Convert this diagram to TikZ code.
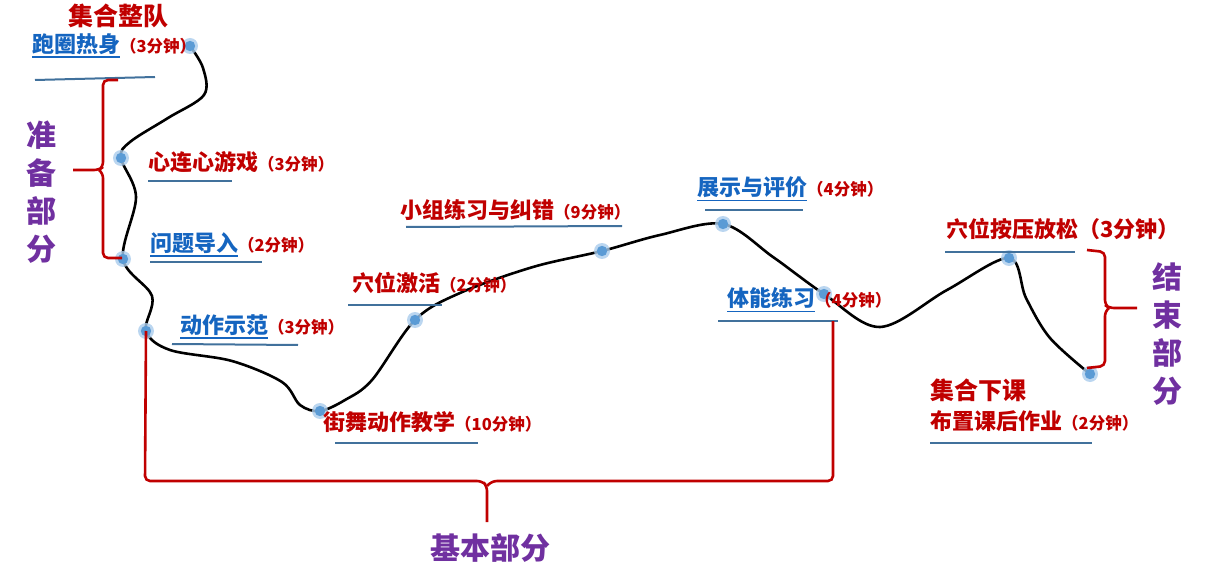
\documentclass[tikz,border=0pt]{standalone}
\usepackage{fontspec}
\setmainfont{Noto Sans CJK SC}
\usepackage{xcolor}
\definecolor{tred}{RGB}{192,0,0}
\definecolor{tblue}{RGB}{21,101,192}
\definecolor{tpurple}{RGB}{112,48,160}
\definecolor{rulebl}{RGB}{65,113,156}
\definecolor{dotbl}{RGB}{91,155,213}
\definecolor{halo}{RGB}{170,204,236}
\newcommand{\lnk}[1]{{\color{tblue}\vtop{\hbox{#1}\kern1.5pt\hrule height 1.6pt}}}
\newcommand{\mins}[1]{{\fontsize{16.5}{17}\selectfont（#1分钟）}}

\begin{document}
\begin{tikzpicture}[x=1pt, y=-1pt,
  lbl/.style={anchor=west, inner sep=0pt, font=\fontsize{22}{24}\selectfont\bfseries, text=tred},
  part/.style={inner sep=0pt, align=center, font=\fontsize{30}{38}\selectfont\bfseries, text=tpurple},
  bar/.style={draw=rulebl, line width=2pt},
  brace/.style={draw=tred, line width=2.6pt, rounded corners=5pt}]
\useasboundingbox (0,0) rectangle (1208,580);
% points on the lesson curve
\foreach \n/\xy in {d1/{190,46}, d2/{121,158}, d3/{123,259}, d4/{146,331}, d5/{320,411},
  d6/{415,320}, d7/{602,251}, d8/{723,224}, d9/{824,294}, d10/{1009,258}, d11/{1090,374}}
  \coordinate (\n) at (\xy);
\draw[line width=2.6pt, line join=round] plot[smooth, tension=0.55] coordinates {
  (d1) (203,68) (204,95) (168,118) (130,142) (d2) (136,197) (d3) (152,296) (d4)
  (170,350) (232,361) (282,382) (300,405) (d5) (345,400) (372,380) (d6) (460,293)
  (533,267) (d7) (660,235) (d8) (773,257) (d9) (880,327) (947,290) (d10) (1026,298)
  (1050,338) (d11)};
\foreach \p in {d1,d2,d3,d4,d5,d6,d7,d8,d9,d10,d11} {
  \fill[halo, opacity=.8] (\p) circle (8pt);
  \fill[dotbl] (\p) circle (5.2pt);
}
% labels
\node[lbl, anchor=center, font=\fontsize{25}{27}\selectfont\bfseries] (t0) at (118,16) {集合整队};
\node[lbl] (t1) at (32,46) {\lnk{跑圈热身}\mins{3}};
\node[lbl] (t2) at (148,162) {心连心游戏\mins{3}};
\node[lbl] (t3) at (150,245) {\lnk{问题导入}\mins{2}};
\node[lbl] (t4) at (180,327) {\lnk{动作示范}\mins{3}};
\node[lbl] (t5) at (323,422) {街舞动作教学\mins{10}};
\node[lbl] (t6) at (352,283) {穴位激活\mins{2}};
\node[lbl] (t7) at (400,210) {小组练习与纠错\mins{9}};
\node[lbl] (t8) at (697,189) {\lnk{展示与评价}\mins{4}};
\node[lbl] (t9) at (727,300) {\lnk{体能练习}\mins{4}};
\node[lbl] (t10) at (946,229) {穴位按压放松（3分钟）};
\node[lbl, font=\fontsize{24}{26}\selectfont\bfseries] (t11) at (930,390) {集合下课};
\node[lbl] (t12) at (930,421) {布置课后作业\mins{2}};
% part names
\node[part] (p1) at (42,192) {准\\备\\部\\分};
\node[part] (p2) at (490,548) {基本部分};
\node[part] (p3) at (1167,334) {结\\束\\部\\分};
% separator bars
\foreach \a/\b in {{35,80}/{155,77}, {148,181}/{232,181}, {150,262}/{262,262},
  {172,344}/{298,345}, {335,443}/{478,443}, {348,305}/{442,305}, {406,227}/{622,226},
  {705,210}/{803,210}, {718,321}/{838,321}, {945,252}/{1075,252}, {930,443}/{1092,443}}
  \draw[bar] (\a) -- (\b);
% braces
\draw[brace] (118,80) -- (103,80) -- (103,167) -- (99,170) -- (73,170);
\draw[brace] (99,170) -- (103,173) -- (103,258) -- (122,258);
\draw[brace] (d4) -- (145,481) -- (482,481) -- (487,486) -- (487,522);
\draw[brace] (487,486) -- (492,481) -- (833,481) -- (833,321);
\draw[brace] (1087,250) -- (1105,252) -- (1105,305) -- (1109,308) -- (1137,308);
\draw[brace] (1109,308) -- (1105,311) -- (1105,366) -- (1087,368);
\end{tikzpicture}
\end{document}
